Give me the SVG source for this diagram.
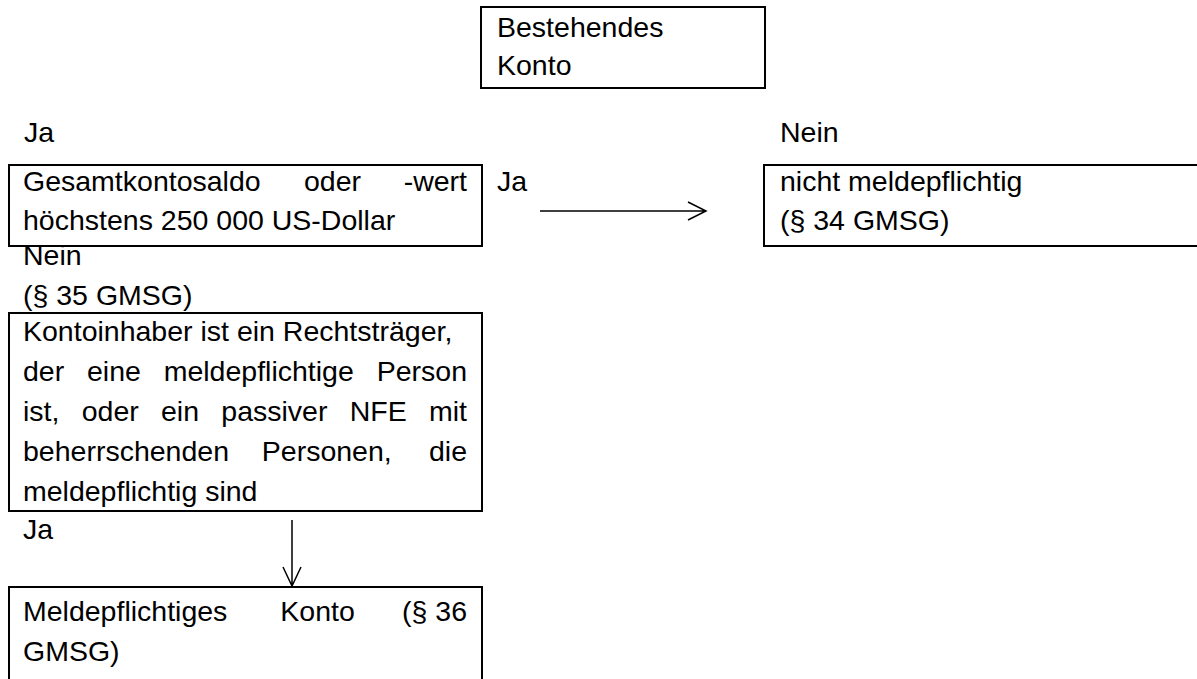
<svg xmlns="http://www.w3.org/2000/svg" width="1197" height="679" viewBox="0 0 1197 679">
<style>
text{font-family:"Liberation Sans",Arial,sans-serif;font-size:28.5px;fill:#000}
.box{fill:#fff;stroke:#000;stroke-width:2}
.ln{stroke:#000;stroke-width:1.5;fill:none}
</style>
<rect width="1197" height="679" fill="#fff"/>
<g id="n_bestehendes">
<rect class="box" x="481" y="7" width="284" height="81"/>
<text x="497" y="37">Bestehendes</text>
<text x="497" y="75">Konto</text>
</g>
<g id="lbl_ja1"><text x="24" y="142">Ja</text></g>
<g id="lbl_nein1"><text x="780" y="142">Nein</text></g>
<g id="n_gesamt">
<rect class="box" x="9" y="165" width="473" height="81"/>
<text y="191"><tspan x="23">Gesamtkontosaldo</tspan><tspan x="304">oder</tspan><tspan x="467" text-anchor="end">-wert</tspan></text>
<text x="23" y="230">höchstens 250 000 US-Dollar</text>
</g>
<g id="lbl_ja2"><text x="497" y="191">Ja</text></g>
<g id="n_nicht">
<rect class="box" x="764" y="165" width="440" height="81"/>
<text x="780" y="191">nicht meldepflichtig</text>
<text x="780" y="230">(§ 34 GMSG)</text>
</g>
<g id="lbl_nein2"><text x="23" y="265">Nein</text></g>
<g id="lbl_p35"><text x="23" y="305">(§ 35 GMSG)</text></g>
<g id="n_kontoinhaber">
<rect class="box" x="9" y="313" width="473" height="198"/>
<text x="23" y="341">Kontoinhaber ist ein Rechtsträger,</text>
<text y="381"><tspan x="23">der</tspan><tspan x="87">eine</tspan><tspan x="163.7">meldepflichtige</tspan><tspan x="467" text-anchor="end">Person</tspan></text>
<text y="421"><tspan x="23">ist,</tspan><tspan x="81.7">oder</tspan><tspan x="161">ein</tspan><tspan x="221.3">passiver</tspan><tspan x="349.7">NFE</tspan><tspan x="467" text-anchor="end">mit</tspan></text>
<text y="461"><tspan x="23">beherrschenden</tspan><tspan x="261.8">Personen,</tspan><tspan x="467" text-anchor="end">die</tspan></text>
<text x="23" y="501">meldepflichtig sind</text>
</g>
<g id="lbl_ja3"><text x="23" y="539">Ja</text></g>
<g id="n_melde">
<rect class="box" x="9" y="587" width="473" height="110"/>
<text y="621"><tspan x="23">Meldepflichtiges</tspan><tspan x="280.3">Konto</tspan><tspan x="467" text-anchor="end">(§ 36</tspan></text>
<text x="23" y="661">GMSG)</text>
</g>
<g id="connectors">
<path class="ln" d="M540 211H706M688 202L706 211L688 220"/>
<path class="ln" d="M292 520V586M283 567L292 586L301 567"/>
</g>
</svg>
